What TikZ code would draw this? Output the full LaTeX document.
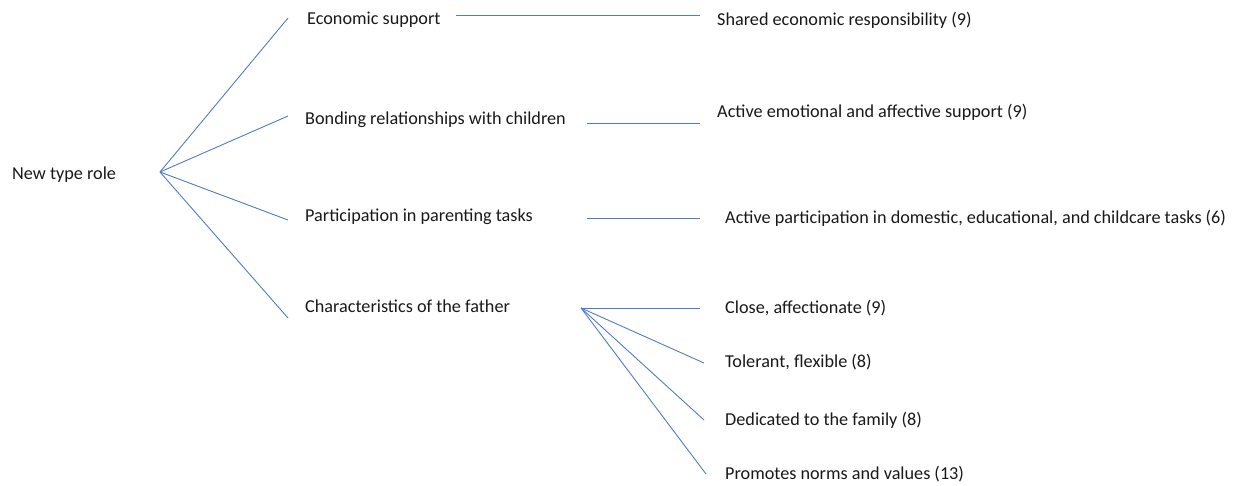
\documentclass[tikz,border=0pt]{standalone}
\usepackage{fontspec}
\setmainfont{Carlito}
\usepackage{xcolor}
\usepackage{tikz}
\definecolor{linkblue}{HTML}{4F7BCB}

\begin{document}
\begin{tikzpicture}[
  x=1pt, y=-1pt,
  font=\fontsize{18.2}{21}\selectfont,
  lbl/.style={anchor=west, inner sep=0pt, text=black!90},
  link/.style={draw=linkblue, line width=0.9pt}]
  \useasboundingbox (0,0) rectangle (1238,485);
  % root
  \node[lbl] (root) at (12,175) {New type role};
  \coordinate (hub) at (160,172);
  % second level
  \node[lbl] (econ) at (307,20) {Economic support};
  \node[lbl] (bond) at (305,120) {Bonding relationships with children};
  \node[lbl] (part) at (305,217) {Participation in parenting tasks};
  \node[lbl] (char) at (305,306) {Characteristics of the father};
  \coordinate (econ-in) at (288,18);
  \coordinate (bond-in) at (288,116);
  \coordinate (part-in) at (288,220);
  \coordinate (char-in) at (288,318);
  \draw[link] (hub) -- (econ-in);
  \draw[link] (hub) -- (bond-in);
  \draw[link] (hub) -- (part-in);
  \draw[link] (hub) -- (char-in);
  % third level
  \node[lbl] (shared) at (717,20) {Shared economic responsibility (9)};
  \node[lbl] (emo) at (717,112) {Active emotional and affective support (9)};
  \node[lbl] (dom) at (725,218) {Active participation in domestic, educational, and childcare tasks (6)};
  \coordinate (econ-out) at (456,15);
  \coordinate (shared-in) at (700,15);
  \coordinate (bond-out) at (587,123);
  \coordinate (emo-in) at (700,123);
  \coordinate (part-out) at (587,218);
  \coordinate (dom-in) at (700,218);
  \draw[link] (econ-out) -- (shared-in);
  \draw[link] (bond-out) -- (emo-in);
  \draw[link] (part-out) -- (dom-in);
  % father traits
  \coordinate (subhub) at (581,308);
  \node[lbl] (close) at (725,308) {Close, affectionate (9)};
  \node[lbl] (tol) at (725,362) {Tolerant, flexible (8)};
  \node[lbl] (ded) at (725,420) {Dedicated to the family (8)};
  \node[lbl] (norms) at (725,474) {Promotes norms and values (13)};
  \coordinate (close-in) at (700,308);
  \coordinate (tol-in) at (704,363);
  \coordinate (ded-in) at (704,420);
  \coordinate (norms-in) at (706,474);
  \draw[link] (subhub) -- (close-in);
  \draw[link] (subhub) -- (tol-in);
  \draw[link] (subhub) -- (ded-in);
  \draw[link] (subhub) -- (norms-in);
\end{tikzpicture}
\end{document}
